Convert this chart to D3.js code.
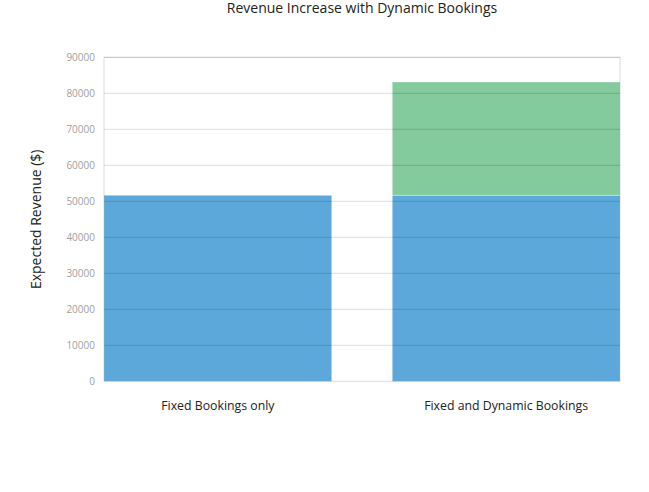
<!DOCTYPE html>
<html>
<head>
<meta charset="utf-8">
<script src="https://cdn.jsdelivr.net/npm/d3@7"></script>
<style>
  body { margin: 0; background: #fff; }
  text { font-family: "Open Sans", sans-serif; }
</style>
</head>
<body>
<svg></svg>
<script>
const categories = ['Fixed Bookings only', 'Fixed and Dynamic Bookings'];
const fixedRevenue = [51667, 51667];
const dynamicRevenue = [0, 31470];
const yTicks = [0, 10000, 20000, 30000, 40000, 50000, 60000, 70000, 80000, 90000];

const size = {w: 649, h: 492};
const margin = {t: 57.3, r: 29, b: 110.7, l: 104};
const svg = d3.select('svg')
    .attr('width', size.w)
    .attr('height', size.h);

const plot = {w: size.w - margin.l - margin.r, h: size.h - margin.t - margin.b};

const x = d3.scaleBand()
    .domain(categories)
    .range([margin.l, margin.l + plot.w])
    .paddingInner(0.21)
    .paddingOuter(0);

const y = d3.scaleLinear()
    .domain([0, 90000])
    .range([margin.t + plot.h, margin.t]);

// stacked bars
const series = [
    {values: fixedRevenue, color: '#258bcf', base: categories.map(() => 0)},
    {values: dynamicRevenue, color: '#59b87b', base: fixedRevenue}
];

series.forEach(function (s) {
    svg.append('g')
        .selectAll('rect')
        .data(categories.map((c, i) => ({c: c, v: s.values[i], b: s.base[i]})).filter(d => d.v > 0))
        .enter()
        .append('rect')
        .attr('x', d => x(d.c))
        .attr('width', x.bandwidth())
        .attr('y', d => y(d.b + d.v))
        .attr('height', d => y(d.b) - y(d.b + d.v))
        .attr('fill', s.color)
        .attr('fill-opacity', 0.75)
        .attr('stroke', '#ffffff')
        .attr('stroke-opacity', 0.35)
        .attr('stroke-width', 1);
});

// grid, drawn translucent so it darkens through the bars
svg.append('g')
    .selectAll('line')
    .data(yTicks.slice(1))
    .enter()
    .append('line')
    .attr('x1', margin.l)
    .attr('x2', margin.l + plot.w)
    .attr('y1', d => y(d))
    .attr('y2', d => y(d))
    .attr('stroke', '#000')
    .attr('stroke-opacity', 0.14)
    .attr('stroke-width', 1);

// plot frame
svg.append('rect')
    .attr('x', margin.l)
    .attr('y', margin.t)
    .attr('width', plot.w)
    .attr('height', plot.h)
    .attr('fill', 'none')
    .attr('stroke', '#000')
    .attr('stroke-opacity', 0.14)
    .attr('stroke-width', 1);

// y axis ticks
const yAxis = d3.axisLeft(y)
    .tickValues(yTicks)
    .tickSize(0)
    .tickPadding(9)
    .tickFormat(d3.format('d'));

svg.append('g')
    .attr('transform', 'translate(' + margin.l + ',0)')
    .call(yAxis)
    .call(g => g.select('.domain').remove())
    .selectAll('text')
    .attr('fill', '#a0a0a0')
    .style('font-size', '10px')
    .style('font-family', '"Open Sans", sans-serif');

// x axis
const xAxis = d3.axisBottom(x)
    .tickSize(0)
    .tickPadding(20);

svg.append('g')
    .attr('transform', 'translate(0,' + (margin.t + plot.h) + ')')
    .call(xAxis)
    .call(g => g.select('.domain').remove())
    .selectAll('text')
    .attr('fill', '#222222')
    .style('font-size', '12.3px')
    .style('font-family', '"Open Sans", sans-serif');

// titles
svg.append('text')
    .attr('x', margin.l + plot.w / 2)
    .attr('y', 13)
    .attr('text-anchor', 'middle')
    .attr('fill', '#222222')
    .style('font-size', '14px')
    .text('Revenue Increase with Dynamic Bookings');

svg.append('text')
    .attr('transform', 'translate(41,' + (margin.t + plot.h / 2) + ') rotate(-90)')
    .attr('text-anchor', 'middle')
    .attr('fill', '#222222')
    .style('font-size', '14px')
    .text('Expected Revenue ($)');
</script>
</body>
</html>
